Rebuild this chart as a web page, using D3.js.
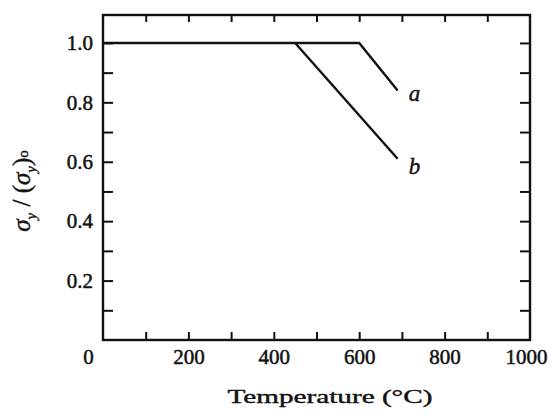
<!DOCTYPE html>
<html>
<head>
<meta charset="utf-8">
<script src="https://cdn.jsdelivr.net/npm/d3@7"></script>
<style>
  body { margin: 0; background: #fff; }
  text { font-family: "Liberation Serif", "Times New Roman", serif; fill: #111; }
</style>
</head>
<body>
<div id="chart"></div>
<script>
// data (temperature in C, ratio of yield strengths)
var tempA = [0, 600, 690]
var ratioA = [1.0, 1.0, 0.84]
var tempB = [450, 690]
var ratioB = [1.0, 0.61]
var seriesNames = ["a", "b"]
var xTickLabels = [0, 200, 400, 600, 800, 1000]
var yTickLabels = [0.2, 0.4, 0.6, 0.8, 1.0]
var xMinorTicks = [100, 200, 300, 400, 500, 600, 700, 800, 900]
var yMinorTicks = [0.1, 0.2, 0.3, 0.4, 0.5, 0.6, 0.7, 0.8, 0.9, 1.0]

var width = 555,
    height = 416
// plot frame edges (don't call it "top", window.top is read only)
var frameL = 103, frameT = 15, frameR = 530, frameB = 340

var svg = d3.select("#chart")
  .append("svg")
    .attr("width", width)
    .attr("height", height)

var x = d3.scaleLinear().domain([0, 1000]).range([frameL, frameR])
var y = d3.scaleLinear().domain([0, 1.094]).range([frameB, frameT])

// ticks on every side, pointing inward
function tickStyle(g) {
  g.select(".domain").remove()
  g.selectAll("line").attr("stroke", "#111").attr("stroke-width", 2)
}

svg.append("g")
  .attr("transform", "translate(0," + frameB + ")")
  .call(d3.axisTop(x).tickValues(xMinorTicks).tickSize(8).tickFormat(""))
  .call(tickStyle)
svg.append("g")
  .attr("transform", "translate(0," + frameT + ")")
  .call(d3.axisBottom(x).tickValues(xMinorTicks).tickSize(7).tickFormat(""))
  .call(tickStyle)
svg.append("g")
  .attr("transform", "translate(" + frameL + ",0)")
  .call(d3.axisRight(y).tickValues(yMinorTicks).tickSize(10).tickFormat(""))
  .call(tickStyle)
svg.append("g")
  .attr("transform", "translate(" + frameR + ",0)")
  .call(d3.axisLeft(y).tickValues(yMinorTicks).tickSize(10).tickFormat(""))
  .call(tickStyle)

// tick labels, a thin stroke makes them look like the heavy scanned print
var xLab = svg.append("g")
  .attr("transform", "translate(0," + frameB + ")")
  .call(d3.axisBottom(x).tickValues(xTickLabels).tickSize(0).tickPadding(9).tickFormat(d3.format("d")))
xLab.select(".domain").remove()
xLab.selectAll("text").attr("font-size", 21).attr("fill", "#111")
  .attr("font-family", "Liberation Serif")
  .attr("stroke", "#111").attr("stroke-width", 0.5)
  .attr("dx", function(d) { return d == 0 ? -15 : (d == 1000 ? -4 : 0) })

var yLab = svg.append("g")
  .attr("transform", "translate(" + frameL + ",0)")
  .call(d3.axisLeft(y).tickValues(yTickLabels).tickSize(0).tickPadding(10).tickFormat(d3.format(".1f")))
yLab.select(".domain").remove()
yLab.selectAll("text").attr("font-size", 21).attr("fill", "#111")
  .attr("font-family", "Liberation Serif")
  .attr("stroke", "#111").attr("stroke-width", 0.5)

// frame
svg.append("rect")
  .attr("x", frameL).attr("y", frameT)
  .attr("width", frameR - frameL).attr("height", frameB - frameT)
  .attr("fill", "none").attr("stroke", "#111").attr("stroke-width", 2.4)

var line = d3.line()
  .x(function(d) { return x(d[0]) })
  .y(function(d) { return y(d[1]) })

svg.append("path")
  .datum(d3.zip(tempA, ratioA))
  .attr("d", line)
  .attr("fill", "none").attr("stroke", "#111").attr("stroke-width", 2.4)
svg.append("path")
  .datum(d3.zip(tempB, ratioB))
  .attr("d", line)
  .attr("fill", "none").attr("stroke", "#111").attr("stroke-width", 2.4)

// curve labels
svg.append("text")
  .attr("x", x(tempA[tempA.length - 1]) + 11).attr("y", y(ratioA[ratioA.length - 1]) + 11)
  .attr("font-size", 23).attr("font-style", "italic")
  .attr("stroke", "#111").attr("stroke-width", 0.4)
  .text(seriesNames[0])
svg.append("text")
  .attr("x", x(tempB[tempB.length - 1]) + 11).attr("y", y(ratioB[ratioB.length - 1]) + 15)
  .attr("font-size", 23).attr("font-style", "italic")
  .attr("stroke", "#111").attr("stroke-width", 0.4)
  .text(seriesNames[1])

// axis titles
svg.append("text")
  .attr("x", 330).attr("y", 403)
  .attr("text-anchor", "middle")
  .attr("font-size", 19)
  .attr("stroke", "#111").attr("stroke-width", 0.4)
  .attr("textLength", 205).attr("lengthAdjust", "spacingAndGlyphs")
  .text("Temperature (°C)")

var yt = svg.append("text")
  .attr("transform", "translate(30,191) rotate(-90)")
  .attr("text-anchor", "middle")
  .attr("font-size", 25)
  .attr("stroke", "#111").attr("stroke-width", 0.4)
yt.append("tspan").attr("font-style", "italic").text("σ")
yt.append("tspan").attr("font-style", "italic").attr("font-size", 15).attr("dy", 6).text("y")
yt.append("tspan").attr("dy", -6).text(" / (")
yt.append("tspan").attr("font-style", "italic").text("σ")
yt.append("tspan").attr("font-style", "italic").attr("font-size", 15).attr("dy", 6).text("y")
yt.append("tspan").attr("dy", -6).text(")")
yt.append("tspan").attr("font-size", 15).attr("dy", -2).text("o")
</script>
</body>
</html>
